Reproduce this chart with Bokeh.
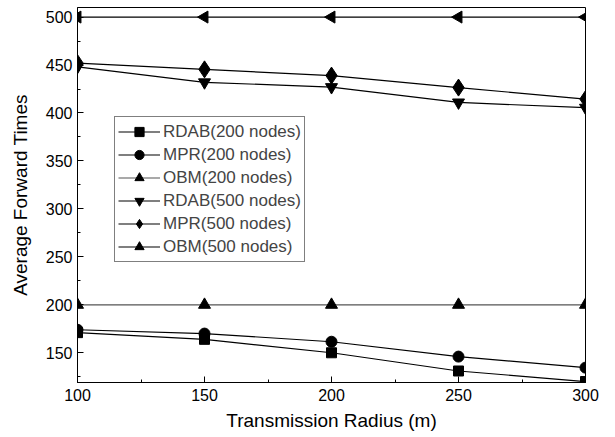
import math
from bokeh.plotting import figure
from bokeh.models import SingleIntervalTicker, Range1d, Legend, LegendItem
from bokeh.embed import file_html
from bokeh.resources import INLINE

radius = [100, 150, 200, 250, 300]
rdab_200 = [171, 164, 150, 131, 120]
mpr_200 = [174, 170, 161.5, 146, 134.5]
obm_200 = [200, 200, 200, 200, 200]
rdab_500 = [448, 432, 427, 411, 405.5]
mpr_500 = [452, 445.5, 439, 426.5, 414.5]
obm_500 = [500, 500, 500, 500, 500]

series = [
    ("RDAB(200 nodes)", rdab_200, "square", 10, 0, "#000000"),
    ("MPR(200 nodes)", mpr_200, "circle", 11, 0, "#000000"),
    ("OBM(200 nodes)", obm_200, "triangle", 12, 0, "#555555"),
    ("RDAB(500 nodes)", rdab_500, "inverted_triangle", 12, 0, "#000000"),
    ("MPR(500 nodes)", mpr_500, "diamond", 17, 0, "#000000"),
    ("OBM(500 nodes)", obm_500, "triangle", 12, math.pi / 2, "#000000"),
]

FONT = "Liberation Sans"

p = figure(width=615, height=437, output_backend="svg", toolbar_location=None,
           x_range=Range1d(100, 300), y_range=Range1d(119, 510),
           min_border_left=77, min_border_right=30, min_border_top=7, min_border_bottom=55)
p.xgrid.visible = False
p.ygrid.visible = False
p.outline_line_color = "black"
p.outline_line_width = 1
p.background_fill_color = "white"
p.border_fill_color = "white"

items = []
for label, ys, marker, size, angle, lc in series:
    r1 = p.line(radius, ys, line_color=lc, line_width=1.2)
    r2 = p.scatter(radius, ys, marker=marker, size=size, angle=angle,
                   fill_color="black", line_color="black")
    items.append(LegendItem(label=label, renderers=[r1, r2]))

legend = Legend(items=items, location=(37, 120), label_text_font=FONT,
                label_text_font_size="17px", glyph_width=42, glyph_height=23,
                label_height=23, spacing=0, padding=3, margin=0,
                label_standoff=3, border_line_color="black", border_line_width=1,
                background_fill_alpha=1)
p.add_layout(legend, "center")

p.xaxis.ticker = SingleIntervalTicker(interval=50, num_minor_ticks=2)
p.yaxis.ticker = SingleIntervalTicker(interval=50, num_minor_ticks=2)

for ax in (p.xaxis, p.yaxis):
    ax.major_tick_in = 6
    ax.major_tick_out = 0
    ax.minor_tick_in = 3
    ax.minor_tick_out = 0
    ax.axis_line_color = "black"
    ax.major_label_text_font = FONT
    ax.major_label_text_font_size = "16px"
    ax.major_label_text_color = "black"
    ax.axis_label_text_font = FONT
    ax.axis_label_text_font_size = "19px"
    ax.axis_label_text_font_style = "normal"
    ax.axis_label_text_color = "black"

p.xaxis.axis_label = "Transmission Radius (m)"
p.yaxis.axis_label = "Average Forward Times"
p.xaxis.major_label_standoff = 6
p.xaxis.axis_label_standoff = 6
p.yaxis.major_label_standoff = 5
p.yaxis.axis_label_standoff = 12

open("out.html", "w").write(file_html(p, INLINE))
